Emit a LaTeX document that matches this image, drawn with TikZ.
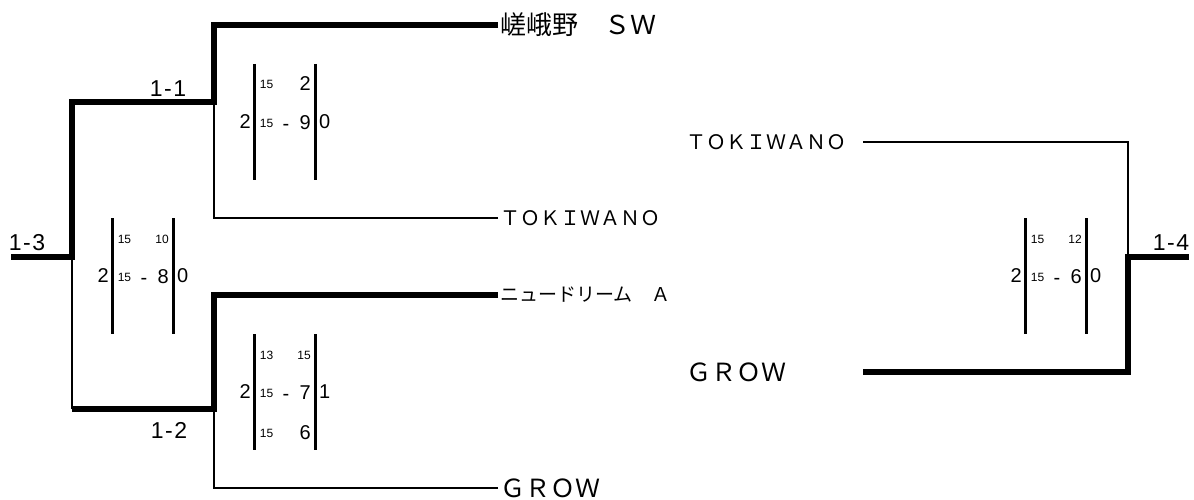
\documentclass[tikz,border=0pt]{standalone}
\usepackage{fontspec}
\setmainfont{Liberation Sans}
\newfontfamily\jp{Noto Sans CJK JP}

% score block: #1 name, #2 x of left bar, #3 middle y, #4 left total, #5 right total
\newcommand\scoreblock[5]{%
  \draw[bar] (#2,#3-58) -- (#2,#3+58);
  \draw[bar] (#2+61,#3-58) -- (#2+61,#3+58);
  \node[total, anchor=east] (#1-l) at (#2-3,#3) {#4};
  \node[total, anchor=west] (#1-r) at (#2+65,#3) {#5};
  \node[total, anchor=base] (#1-dash) at (#2+32,#3+8.5) {-};}
% one game: #1 name, #2 x of left bar, #3 y, #4 left points, #5 right points, #6 style
\newcommand\gamerow[6]{%
  \node[game] (#1-a) at (#2+12.5,#3) {#4};
  \node[#6, anchor=east] (#1-b) at (#2+57,#3) {#5};}
\newcommand\rnd[2]{#1\kern1.5pt-\kern1.5pt#2}

\begin{document}
\begin{tikzpicture}[
    x=1pt, y=-1pt,
    win/.style={line width=6.5pt},
    lose/.style={line width=2.5pt},
    bar/.style={line width=3pt},
    round/.style={font=\fontsize{23}{23}\selectfont, inner sep=0},
    total/.style={font=\fontsize{20}{20}\selectfont, inner sep=0},
    game/.style={font=\fontsize{12}{12}\selectfont, inner sep=0},
    team/.style={anchor=west, inner xsep=2pt, inner ysep=0},
]
\useasboundingbox (0,0) rectangle (1194,500);

% teams
\node[team, font=\jp\fontsize{26}{26}\selectfont] (sagano) at (498,25) {嵯峨野　ＳＷ};
\node[team, font=\jp\fontsize{20}{20}\selectfont] (toki1) at (498,218) {ＴＯＫＩＷＡＮＯ};
\node[team, font=\jp\fontsize{19}{19}\selectfont] (newdream) at (498,295) {ニュードリーム　Ａ};
\node[team, font=\jp\fontsize{25}{25}\selectfont] (grow1) at (498,488) {ＧＲＯＷ};
\node[team, font=\jp\fontsize{20}{20}\selectfont] (toki2) at (684,142) {ＴＯＫＩＷＡＮＯ};
\node[team, font=\jp\fontsize{25}{25}\selectfont] (grow2) at (684,372) {ＧＲＯＷ};

% joints
\coordinate (m11) at (214,102);
\coordinate (m12) at (214,409);
\coordinate (m13) at (72,257);
\coordinate (c12) at (m12 -| m13);
\coordinate (r13) at (11,257);
\coordinate (m14) at (1128,257);
\coordinate (r14) at (1189,257);
\coordinate (t14) at (863,142);
\coordinate (g14) at (863,372);

% round labels
\node[round] (l11) at (168,89) {\rnd11};
\node[round] (l12) at (169,430) {\rnd12};
\node[round] (l13) at (27,243) {\rnd13};
\node[round] (l14) at (1171,243) {\rnd14};

% lines
\draw[lose] (toki1.west) -| (m11);
\draw[lose] (grow1.west) -| (m12);
\draw[lose] (c12) -- (m13);
\draw[win] (sagano.west) -| (m11) -| (m13) -- (r13);
\draw[win] (newdream.west) -| (m12) -- (c12);
\draw[lose] (t14) -| (m14);
\draw[win] (g14) -| (m14) -- (r14);

% scores
\scoreblock{s11}{254}{122}{2}{0}
\gamerow{s11-g1}{254}{84}{15}{2}{total}
\gamerow{s11-g2}{254}{123}{15}{9}{total}

\scoreblock{s13}{112}{276}{2}{0}
\gamerow{s13-g1}{112}{239}{15}{10}{game}
\gamerow{s13-g2}{112}{277}{15}{8}{total}

\scoreblock{s12}{254}{392}{2}{1}
\gamerow{s12-g1}{254}{355}{13}{15}{game}
\gamerow{s12-g2}{254}{393}{15}{7}{total}
\gamerow{s12-g3}{254}{433}{15}{6}{total}

\scoreblock{s14}{1025}{276}{2}{0}
\gamerow{s14-g1}{1025}{239}{15}{12}{game}
\gamerow{s14-g2}{1025}{277}{15}{6}{total}
\end{tikzpicture}
\end{document}
